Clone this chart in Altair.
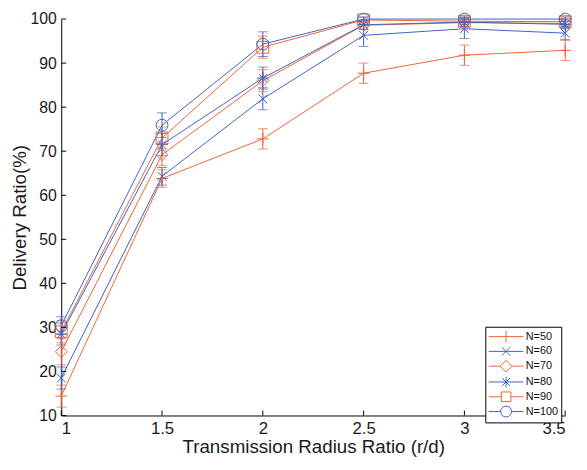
import altair as alt
import pandas as pd

# ---- data ----
x_vals = [1, 1.5, 2, 2.5, 3, 3.5]
series_names = ["N=50", "N=60", "N=70", "N=80", "N=90", "N=100"]

n50 = [14.4, 63.8, 72.8, 87.7, 91.8, 92.9]
n60 = [18.5, 64.3, 81.9, 96.3, 97.8, 96.8]
n70 = [24.5, 69.2, 86.0, 98.6, 99.2, 99.0]
n80 = [28.5, 71.5, 86.6, 98.7, 99.3, 98.8]
n90 = [29.0, 73.0, 93.6, 99.8, 99.5, 99.4]
n100 = [30.4, 75.9, 94.3, 100.0, 100.0, 100.0]

e50 = [2.5, 2.0, 2.3, 2.3, 2.3, 2.3]
e60 = [2.5, 2.0, 2.5, 2.5, 2.2, 1.5]
e70 = [3.0, 2.5, 2.5, 1.0, 1.0, 1.0]
e80 = [2.5, 2.5, 2.5, 1.0, 1.0, 1.0]
e90 = [2.5, 2.5, 2.5, 0.6, 0.8, 0.8]
e100 = [2.0, 2.8, 2.8, 0.5, 0.5, 0.5]

x_ticks = [1, 1.5, 2, 2.5, 3, 3.5]
y_ticks = [10, 20, 30, 40, 50, 60, 70, 80, 90, 100]

values = [n50, n60, n70, n80, n90, n100]
errors = [e50, e60, e70, e80, e90, e100]

ORANGE = "#EF6433"
BLUE = "#3F63C2"
colors = [ORANGE, BLUE, ORANGE, BLUE, ORANGE, BLUE]

# marker shapes for the plot
plot_shapes = [
    "M-1,0L1,0M0,-1L0,1",
    "M-0.75,-0.75L0.75,0.75M-0.75,0.75L0.75,-0.75",
    "diamond",
    "M-1,0L1,0M0,-1L0,1M-0.7,-0.7L0.7,0.7M-0.7,0.7L0.7,-0.7",
    "square",
    "circle",
]
# legend symbols: short line with the marker in the middle (unit = 6.5px)
legend_shapes = [
    "M-1,0L4.4,0M1.7,-0.92L1.7,0.92",
    "M-1,0L4.4,0M1.05,-0.65L2.35,0.65M1.05,0.65L2.35,-0.65",
    "M-1,0L0.78,0M2.62,0L4.4,0M1.7,-0.92L2.62,0L1.7,0.92L0.78,0Z",
    "M-1,0L4.4,0M1.7,-0.85L1.7,0.85M1.1,-0.6L2.3,0.6M1.1,0.6L2.3,-0.6",
    "M-1,0L0.95,0M2.45,0L4.4,0M0.95,-0.75L2.45,-0.75L2.45,0.75L0.95,0.75Z",
    "M-1,0L0.85,0M2.55,0L4.4,0M2.55,0A0.85,0.85 0 1,1 0.85,0A0.85,0.85 0 1,1 2.55,0",
]

rows = []
for name, ys_, es_ in zip(series_names, values, errors):
    for xv, yv, ev in zip(x_vals, ys_, es_):
        rows.append({"series": name, "x": xv, "y": yv, "lo": yv - ev, "hi": yv + ev})
df = pd.DataFrame(rows)

W, H = 511, 402
FONT = "Liberation Sans"

xs = alt.Scale(domain=[1, 3.5], nice=False, zero=False)
ysc = alt.Scale(domain=[10, 100], nice=False, zero=False)

X = alt.X("x:Q", scale=xs, axis=alt.Axis(
    values=x_ticks, format="~g", title="Transmission Radius Ratio (r/d)",
    ticks=False, grid=False, labelPadding=5, titlePadding=2, labelFontSize=17))
Y = alt.Y("y:Q", scale=ysc, axis=alt.Axis(
    values=y_ticks, title="Delivery Ratio(%)", ticks=False, grid=False,
    labelPadding=5, titlePadding=1, labelFontSize=16))

color_nolegend = alt.Color("series:N", scale=alt.Scale(domain=series_names, range=colors), legend=None)

base = alt.Chart(df)

lines = base.mark_line(strokeWidth=1).encode(
    x=X, y=Y, color=color_nolegend, detail="series:N", order="x:Q")

err_rules = base.mark_rule(strokeWidth=1).encode(
    x="x:Q", y="lo:Q", y2="hi:Q", color=color_nolegend)

caps = base.transform_fold(["lo", "hi"], as_=["end", "val"]).mark_tick(
    orient="horizontal", size=10, thickness=1).encode(
    x="x:Q", y="val:Q", color=color_nolegend)

points = base.mark_point(filled=False, size=144, strokeWidth=1, opacity=1).encode(
    x="x:Q", y="y:Q", color=color_nolegend,
    shape=alt.Shape("series:N", scale=alt.Scale(domain=series_names, range=plot_shapes), legend=None))

leg = alt.Legend(
    title=None, orient="none", legendX=430, legendY=312,
    symbolSize=169, labelOffset=24, padding=3, rowPadding=0,
    strokeColor="black", fillColor="white", symbolStrokeWidth=1,
    labelFontSize=11, labelFont=FONT, labelColor="#111",
    symbolOpacity=1,
)

legend_layer = base.mark_point(filled=False, size=144, strokeWidth=1, opacity=0).encode(
    x="x:Q", y="y:Q",
    color=alt.Color("series:N", scale=alt.Scale(domain=series_names, range=colors), legend=leg),
    shape=alt.Shape("series:N", scale=alt.Scale(domain=series_names, range=legend_shapes), legend=leg))

xt = pd.DataFrame({"x": x_ticks})
yt = pd.DataFrame({"y": y_ticks})
xtick_layer = alt.Chart(xt).mark_rule(color="black", strokeWidth=1).encode(
    x="x:Q", y=alt.value(H), y2=alt.value(H - 5))
ytick_layer = alt.Chart(yt).mark_rule(color="black", strokeWidth=1).encode(
    y="y:Q", x=alt.value(0), x2=alt.value(5))

chart = alt.layer(
    lines, err_rules, caps, points, xtick_layer, ytick_layer, legend_layer
).resolve_scale(
    color="independent", shape="independent"
).properties(
    width=W, height=H,
    autosize=alt.AutoSizeParams(type="none"),
    padding={"left": 54, "top": 8, "right": 14, "bottom": 48},
).configure_view(stroke=None).configure_axis(
    domainColor="black", domainWidth=1,
    labelFont=FONT, labelColor="#1a1a1a",
    titleFont=FONT, titleFontSize=19, titleFontWeight="normal", titleColor="#1a1a1a",
)

chart.save("out.html", embed_options={"renderer": "svg", "actions": False})
